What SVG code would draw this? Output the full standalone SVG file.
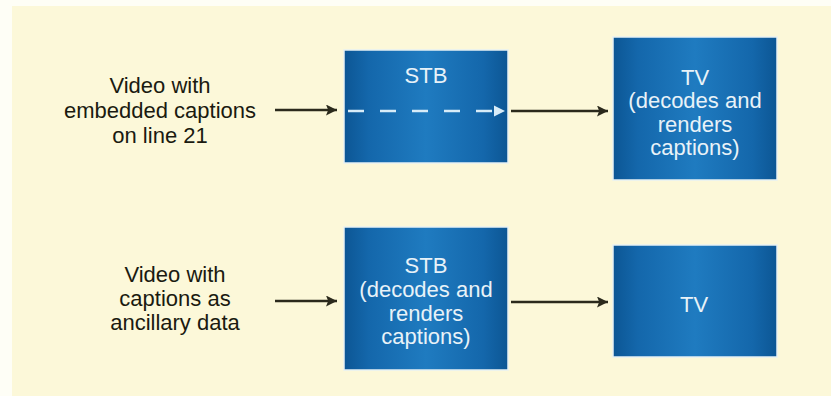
<svg xmlns="http://www.w3.org/2000/svg" width="831" height="396" viewBox="0 0 831 396">
<defs>
<linearGradient id="blue" x1="0" y1="0" x2="1" y2="0">
<stop offset="0" stop-color="#0c5694"/>
<stop offset="0.15" stop-color="#1467ab"/>
<stop offset="0.5" stop-color="#1f7bc0"/>
<stop offset="0.85" stop-color="#1467ab"/>
<stop offset="1" stop-color="#0c5694"/>
</linearGradient>
<marker id="ah" viewBox="0 0 10 10" refX="10" refY="5" markerWidth="12" markerHeight="11" markerUnits="userSpaceOnUse" orient="auto">
<path d="M0,0 L10,5 L0,10 L2,5 Z" fill="#2b2a1c"/>
</marker>
<marker id="ahw" viewBox="0 0 10 10" refX="10" refY="5" markerWidth="11" markerHeight="12" markerUnits="userSpaceOnUse" orient="auto">
<path d="M0,0 L10,5 L0,10 Z" fill="#d8ecf8"/>
</marker>
</defs>
<style>
.box{fill:url(#blue);stroke:#e6f1f4;stroke-width:1.5}
.lbl{font-family:"Liberation Sans",Arial,sans-serif;font-size:22px;fill:#1a1a10;text-anchor:middle}
.wt{font-family:"Liberation Sans",Arial,sans-serif;font-size:22px;fill:#e8f2f8;text-anchor:middle}
.con{stroke:#2b2a1c;stroke-width:2.5;fill:none;marker-end:url(#ah)}
</style>
<rect x="0" y="0" width="831" height="396" fill="#fefef6"/>
<rect x="12" y="6" width="819" height="390" fill="#fcf8d9"/>

<g id="label1">
<text class="lbl" x="160" y="93">Video with</text>
<text class="lbl" x="160" y="118">embedded captions</text>
<text class="lbl" x="160" y="143">on line 21</text>
</g>
<g id="label2">
<text class="lbl" x="175" y="282">Video with</text>
<text class="lbl" x="175" y="306">captions as</text>
<text class="lbl" x="175" y="330">ancillary data</text>
</g>

<g id="stb1">
<rect class="box" x="344" y="50" width="164" height="113"/>
<text class="wt" x="426" y="83">STB</text>
<line x1="348" y1="111" x2="505" y2="111" stroke="#d8ecf8" stroke-width="2.5" stroke-dasharray="16 16" marker-end="url(#ahw)"/>
</g>
<g id="tv1">
<rect class="box" x="613" y="37" width="164" height="143"/>
<text class="wt" x="695" y="85">TV</text>
<text class="wt" x="695" y="108">(decodes and</text>
<text class="wt" x="695" y="132">renders</text>
<text class="wt" x="695" y="155">captions)</text>
</g>
<g id="stb2">
<rect class="box" x="344" y="227" width="164" height="143"/>
<text class="wt" x="426" y="273">STB</text>
<text class="wt" x="426" y="297">(decodes and</text>
<text class="wt" x="426" y="321">renders</text>
<text class="wt" x="426" y="344">captions)</text>
</g>
<g id="tv2">
<rect class="box" x="613" y="245" width="164" height="112"/>
<text class="wt" x="694" y="312">TV</text>
</g>

<g id="connectors">
<line class="con" x1="275" y1="110" x2="337" y2="110"/>
<line class="con" x1="511" y1="111" x2="608" y2="111"/>
<line class="con" x1="275" y1="301" x2="337" y2="301"/>
<line class="con" x1="511" y1="302" x2="608" y2="302"/>
</g>
</svg>
